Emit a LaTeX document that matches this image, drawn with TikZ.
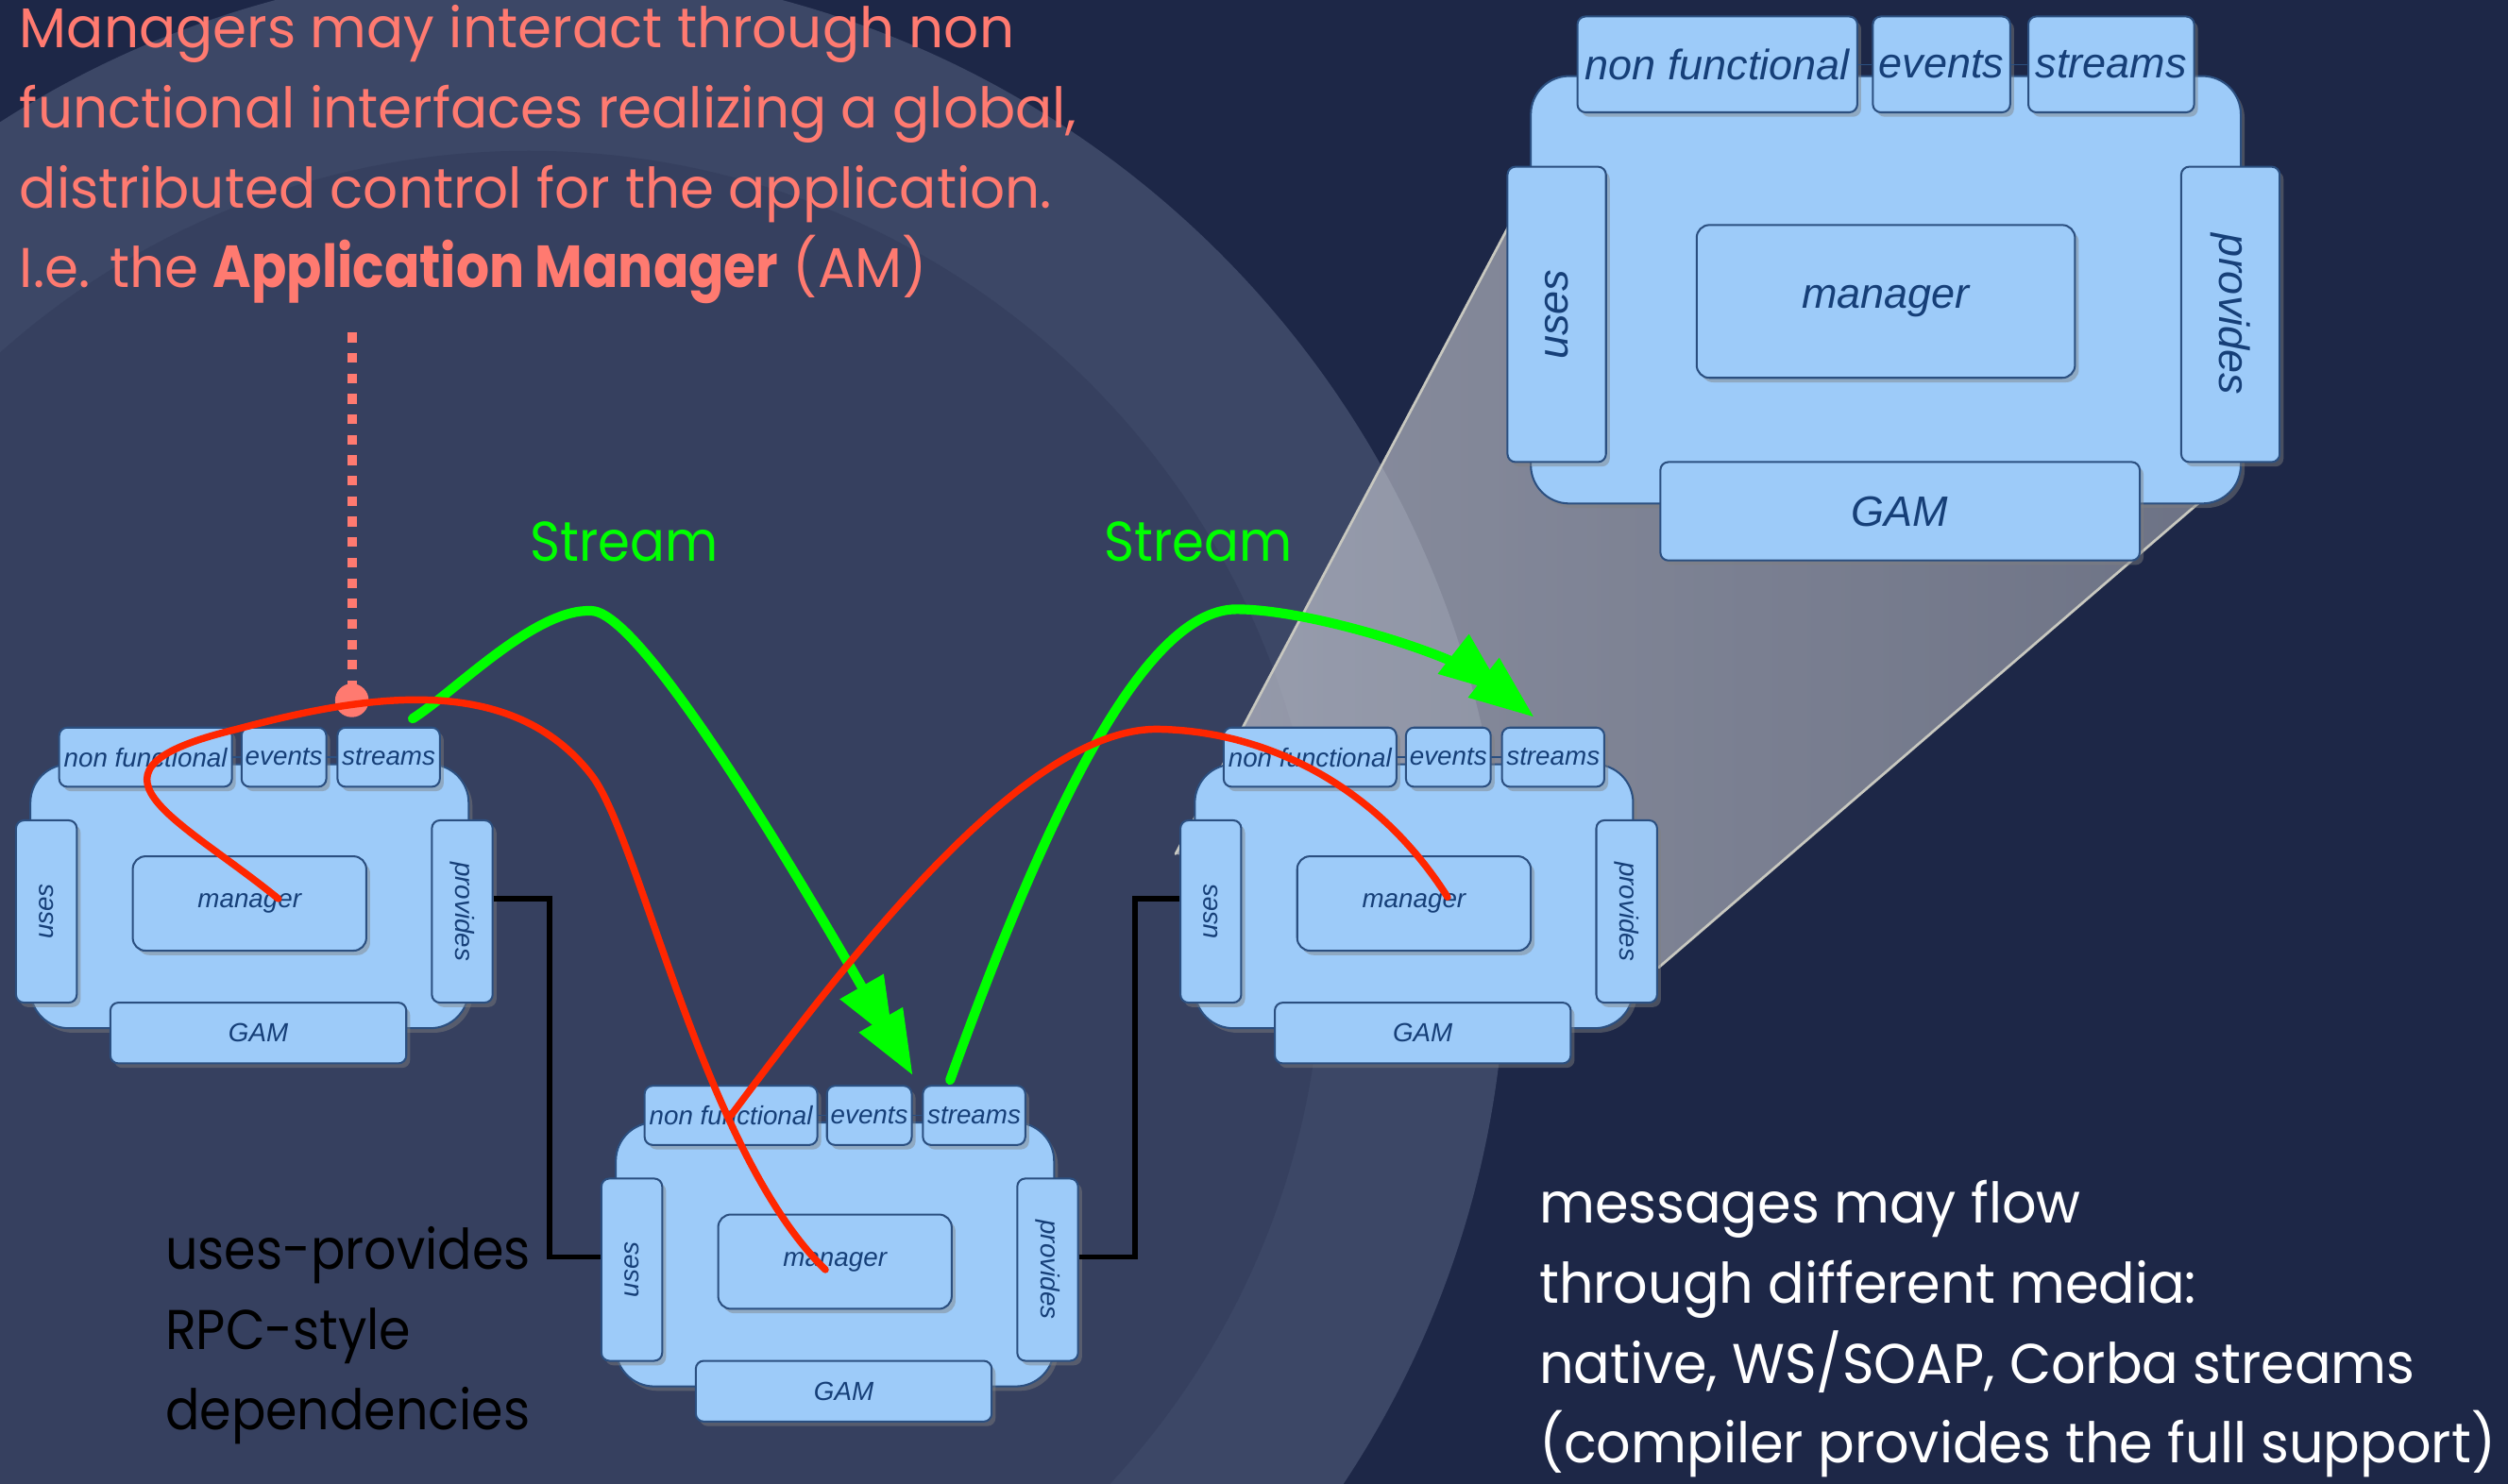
\documentclass[tikz,border=0pt]{standalone}
\usepackage{fontspec}
\setmainfont{Poppins}
\newfontfamily\helv{Liberation Sans}
\usetikzlibrary{arrows.meta,shadows}

\definecolor{navy}{HTML}{1D2747}
\definecolor{ringout}{HTML}{3C4766}
\definecolor{ringin}{HTML}{36405F}
\definecolor{gcmfill}{HTML}{9DCBF9}
\definecolor{gcmline}{HTML}{2B4F80}
\definecolor{gcmtext}{HTML}{163F78}
\definecolor{salmon}{HTML}{FF7A70}
\definecolor{amred}{HTML}{FF2600}
\definecolor{streamgreen}{HTML}{00FF00}
\definecolor{conelight}{HTML}{E6E6EA}
\definecolor{conedark}{HTML}{AEB0B8}
\definecolor{coneedge}{HTML}{C8C8C0}

\tikzset{
  gcmbox/.style={draw=gcmline,line width=0.6pt,fill=gcmfill,rounded corners=2.5pt,inner sep=0pt,
    drop shadow={opacity=0.45,shadow xshift=1.2pt,shadow yshift=-1.4pt},text=gcmtext,
    font=\helv\itshape\fontsize{8.2}{9}\selectfont},
  gcmbody/.style={gcmbox,rounded corners=12pt},
  stream/.style={draw=streamgreen,line width=3pt,
    -{Triangle[length=20pt,width=15pt,sep=-8pt]Triangle[length=20pt,width=15pt]}},
  amcurve/.style={draw=amred,line width=2.2pt},
  rpc/.style={draw=black,line width=1.6pt,line cap=butt},
  bigtext/.style={font=\fontsize{17.5}{25}\selectfont,anchor=base west,inner sep=0pt},
}

% one GCM component: name, centre of the manager, scale
\newcommand{\gcmmodule}[4]{%
\begin{scope}[shift={(#2,#3)},scale=#4,transform shape]
  \node[gcmbody,minimum width=137pt,minimum height=82.5pt] (#1) at (0,-4.5) {};
  \node[gcmbox,minimum width=54pt,minimum height=18.5pt] (#1-nf) at (-65,-91.5) {non functional};
  \node[gcmbox,minimum width=26.5pt,minimum height=18.5pt] (#1-ev) at (21.5,-91.5) {events};
  \node[gcmbox,minimum width=32pt,minimum height=18.5pt] (#1-st) at (87,-91.5) {streams};
  \node[gcmbox,minimum width=57pt,minimum height=19pt,rotate=90] (#1-uses) at (-127,5) {uses};
  \node[gcmbox,minimum width=57pt,minimum height=19pt,rotate=-90] (#1-prov) at (133,5) {provides};
  \node[gcmbox,minimum width=73pt,minimum height=29.5pt,rounded corners=4pt] (#1-mgr) at (0,0) {manager};
  \node[gcmbox,minimum width=92.5pt,minimum height=19pt] (#1-gam) at (5.5,81) {GAM};
  \draw[gcmline,line width=0.4pt] (#1-nf.east) -- (#1-ev.west) (#1-ev.east) -- (#1-st.west);
\end{scope}}

\begin{document}
\begin{tikzpicture}[x=0.5pt,y=-0.5pt,line cap=round]
\useasboundingbox (0,0) rectangle (1568,928);
% background
\begin{scope}
\clip (0,0) rectangle (1568,928);
\fill[navy] (0,0) rectangle (1568,928);
\fill[ringout] (330.6,590.3) circle[radius=611];
\fill[ringin] (330.6,590.3) circle[radius=496];
\end{scope}

% zoom cone
\shade[left color=conelight,right color=conedark,fill opacity=0.55]
  (735,534) -- (944,140) -- (1395,297) -- (1037,605) -- cycle;
\draw[coneedge,line width=0.8pt] (735,534) -- (944,140) (1395,297) -- (1037,605);

% components
\gcmmodule{A}{156}{565}{1}
\gcmmodule{B}{522}{789}{1}
\gcmmodule{C}{884}{565}{1}
\gcmmodule{Z}{1179}{188.5}{1.62}

% uses-provides links
\draw[rpc] ([yshift=4pt]A-prov.north) -- ++(35,0) |- ([yshift=4pt]B-uses.north);
\draw[rpc] ([yshift=4pt]B-prov.north) -- ++(35,0) |- ([yshift=4pt]C-uses.north);

% application manager
\coordinate (amtop) at (220,208);
\node[circle,fill=salmon,inner sep=0pt,minimum size=10.5pt] (am) at (220,438) {};
\draw[salmon,line width=3pt,line cap=butt,dash pattern=on 3pt off 3.4pt] (amtop) -- (am.center);

% streams
\draw[stream] ([xshift=7.5pt,yshift=2.5pt]A-st.north) .. controls (285,432) and (335,380) .. (370,382)
  .. controls (405,383) and (521,586) .. ([yshift=3pt]B-ev.north east);
\draw[stream] ([xshift=-7.5pt,yshift=1.5pt]B-st.north) .. controls (650,520) and (713,381) .. (773,381)
  .. controls (820,381) and (910,410) .. ([xshift=-6pt,yshift=3pt]C-st.north);

% manager to manager
\draw[amcurve] ([xshift=9pt,yshift=1.5pt]A-mgr.center) .. controls (110,510) and (40,482) .. (148,456)
  .. controls (230,434) and (320,420) .. (370,485)
  .. controls (400,524) and (440,720) .. ([xshift=-3pt,yshift=-2.5pt]B-mgr.center);
\draw[amcurve] (B-nf.center) .. controls (530,600) and (640,455) .. (724,456)
  .. controls (790,457) and (860,490) .. ([xshift=10.5pt,yshift=2pt]C-mgr.center);

% texts
\node[bigtext,text=salmon,xscale=0.978] (am1) at (12,30) {Managers may interact through non};
\node[bigtext,text=salmon,xscale=0.978] (am2) at (12,80) {functional interfaces realizing a global,};
\node[bigtext,text=salmon,xscale=0.978] (am3) at (12,130) {distributed control for the application.};
\node[bigtext,text=salmon,xscale=0.978] (am4) at (12,180) {I.e. the \scalebox{0.95}[1.06]{\textbf{Application Manager}} (AM)};
\node[bigtext,text=streamgreen,xscale=0.92] (s1) at (331,351) {Stream};
\node[bigtext,text=streamgreen,xscale=0.92] (s2) at (690,351) {Stream};
\node[bigtext,text=black,xscale=0.91] (dep1) at (103,794) {uses-provides};
\node[bigtext,text=black,xscale=0.91] (dep2) at (103,844) {RPC-style};
\node[bigtext,text=black,xscale=0.91] (dep3) at (103,894) {dependencies};
\node[bigtext,text=white,xscale=0.965] (msg1) at (962,765) {messages may flow};
\node[bigtext,text=white,xscale=0.965] (msg2) at (962,815) {through different media:};
\node[bigtext,text=white,xscale=0.965] (msg3) at (962,865) {native, WS/SOAP, Corba streams};
\node[bigtext,text=white,xscale=0.965] (msg4) at (962,915) {(compiler provides the full support)};
\end{tikzpicture}
\end{document}
